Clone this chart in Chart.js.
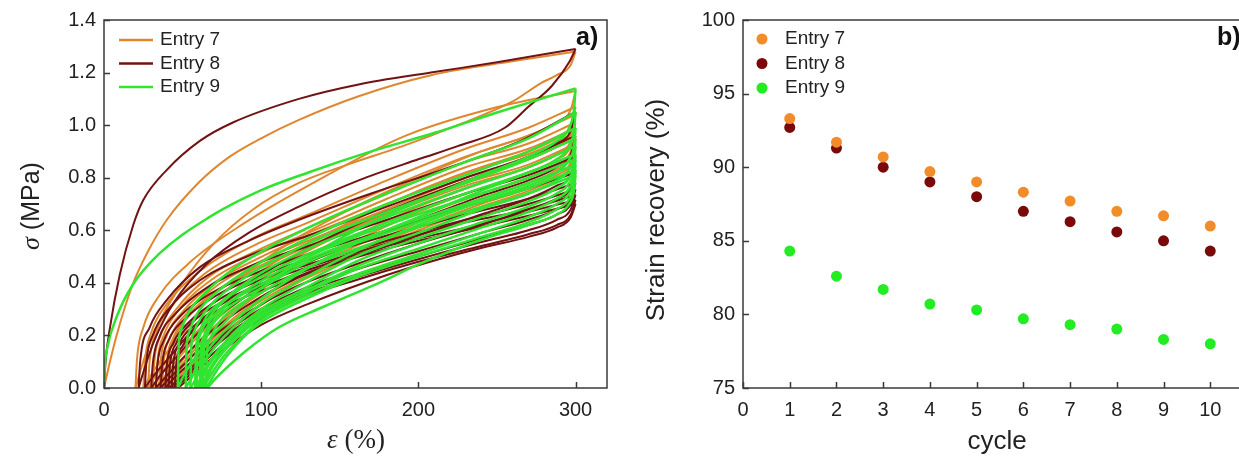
<!DOCTYPE html>
<html>
<head>
<meta charset="utf-8">
<script src="https://cdn.jsdelivr.net/npm/chart.js@4.4.1/dist/chart.umd.min.js"></script>
<style>
  html, body { margin: 0; padding: 0; background: #fff; overflow: hidden; }
  body { width: 1239px; height: 460px; position: relative; }
  .panel { position: absolute; top: 0; height: 460px; }
  #panelA { left: 0; width: 620px; }
  #panelB { left: 620px; width: 660px; }
</style>
</head>
<body>
<div class="panel" id="panelA"><canvas id="chartA"></canvas></div>
<div class="panel" id="panelB"><canvas id="chartB"></canvas></div>
<script>
// 圖例與顏色
const entryLabels = ['Entry 7', 'Entry 8', 'Entry 9'];
const lineColors = ['#DF872F', '#721212', '#30E430'];
const lineWidths = [2, 2, 2.5];
const dotColors = ['#F28C28', '#7A0A0A', '#22EC22'];

// a) 應力-應變循環曲線 [應變 %, 應力 MPa]，每組 10 個循環
const e7Load = [
  [[0,0],[3,0.08],[8,0.2],[18,0.39],[28,0.52],[40,0.64],[60,0.78],[80,0.88],[100,0.95],[124,1.02],[162,1.11],[208,1.19],[251,1.235],[300,1.28]],
  [[20,0],[21,0.11],[25,0.23],[35,0.35],[55,0.48],[90,0.63],[130,0.77],[192,0.96],[251,1.07],[300,1.13]],
  [[25,0],[26,0.10],[30,0.21],[40,0.32],[60,0.44],[95,0.57],[130,0.66],[180,0.79],[230,0.91],[270,0.99],[300,1.07]],
  [[28,0],[29,0.10],[33,0.21],[43,0.31],[63,0.43],[98,0.55],[130,0.63],[180,0.76],[230,0.88],[270,0.96],[300,1.04]],
  [[31,0],[32,0.10],[36,0.20],[46,0.30],[66,0.42],[100,0.53],[130,0.61],[180,0.74],[230,0.86],[270,0.93],[300,1.01]],
  [[33,0],[34,0.10],[38,0.20],[48,0.30],[68,0.41],[102,0.52],[130,0.59],[180,0.72],[230,0.84],[270,0.91],[300,0.99]],
  [[35,0],[36,0.10],[40,0.20],[50,0.29],[70,0.40],[104,0.51],[130,0.58],[180,0.70],[230,0.82],[270,0.89],[300,0.97]],
  [[37,0],[38,0.10],[42,0.19],[52,0.28],[72,0.39],[106,0.50],[130,0.56],[180,0.68],[230,0.80],[270,0.87],[300,0.95]],
  [[39,0],[40,0.10],[44,0.19],[54,0.28],[74,0.38],[108,0.49],[130,0.55],[180,0.67],[230,0.78],[270,0.85],[300,0.93]],
  [[40,0],[41,0.10],[45,0.19],[55,0.28],[75,0.38],[108,0.48],[130,0.54],[180,0.66],[230,0.77],[270,0.84],[300,0.92]]
];
const e7Unload = [
  [[300,1.28],[297,1.23],[288,1.19],[278,1.16],[260,1.09],[225,1.0],[190,0.92],[155,0.85],[124,0.78],[95,0.68],[70,0.55],[50,0.40],[35,0.25],[26,0.12],[20,0]],
  [[300,1.13],[297,1.06],[288,1.01],[270,0.96],[240,0.90],[200,0.80],[160,0.69],[120,0.56],[85,0.41],[55,0.24],[38,0.12],[30,0.05],[25,0]],
  [[300,1.07],[297,1.0],[288,0.95],[270,0.90],[240,0.84],[200,0.75],[160,0.64],[120,0.52],[85,0.38],[58,0.23],[42,0.12],[33,0.05],[28,0]],
  [[300,1.04],[297,0.97],[288,0.92],[270,0.87],[240,0.81],[200,0.72],[160,0.61],[120,0.49],[88,0.36],[60,0.22],[45,0.12],[36,0.05],[31,0]],
  [[300,1.01],[297,0.94],[288,0.89],[270,0.84],[240,0.78],[200,0.69],[160,0.58],[120,0.47],[88,0.34],[62,0.21],[47,0.11],[38,0.04],[33,0]],
  [[300,0.99],[297,0.92],[288,0.87],[270,0.82],[240,0.76],[200,0.67],[160,0.56],[120,0.45],[90,0.33],[64,0.20],[49,0.10],[40,0.04],[35,0]],
  [[300,0.97],[297,0.90],[288,0.85],[270,0.80],[240,0.74],[200,0.65],[160,0.54],[120,0.43],[90,0.32],[66,0.20],[51,0.10],[42,0.04],[37,0]],
  [[300,0.95],[297,0.88],[288,0.83],[270,0.78],[240,0.72],[200,0.63],[160,0.52],[120,0.41],[92,0.31],[68,0.19],[53,0.10],[44,0.04],[39,0]],
  [[300,0.93],[297,0.86],[288,0.81],[270,0.76],[240,0.70],[200,0.61],[160,0.51],[120,0.40],[92,0.30],[68,0.18],[54,0.09],[45,0.04],[40,0]],
  [[300,0.92],[297,0.85],[288,0.80],[270,0.75],[240,0.69],[200,0.60],[160,0.50],[120,0.39],[94,0.29],[70,0.18],[56,0.09],[47,0.04],[42,0]]
];
const e8Load = [
  [[0,0],[1,0.1],[3.8,0.23],[10,0.43],[18.6,0.62],[25,0.715],[40,0.83],[61,0.94],[82,1.01],[124,1.10],[162,1.155],[208,1.20],[251,1.24],[300,1.29]],
  [[22,0],[23,0.10],[29,0.23],[40,0.335],[61,0.46],[92,0.56],[124,0.64],[170,0.74],[220,0.84],[265,0.94],[300,1.05]],
  [[26,0],[27,0.10],[31,0.20],[41,0.30],[61,0.41],[95,0.51],[130,0.58],[180,0.69],[230,0.80],[270,0.88],[300,0.96]],
  [[30,0],[31,0.09],[35,0.19],[45,0.28],[65,0.38],[100,0.48],[130,0.54],[180,0.64],[230,0.74],[270,0.81],[300,0.88]],
  [[33,0],[34,0.09],[38,0.18],[48,0.27],[68,0.36],[102,0.45],[130,0.51],[180,0.60],[230,0.69],[270,0.76],[300,0.82]],
  [[36,0],[37,0.09],[41,0.18],[51,0.26],[71,0.35],[105,0.44],[130,0.49],[180,0.58],[230,0.66],[270,0.72],[300,0.78]],
  [[39,0],[40,0.09],[44,0.17],[54,0.25],[74,0.34],[108,0.43],[130,0.47],[180,0.56],[230,0.64],[270,0.70],[300,0.755]],
  [[41,0],[42,0.09],[46,0.17],[56,0.25],[76,0.33],[110,0.42],[130,0.46],[180,0.55],[230,0.63],[270,0.68],[300,0.735]],
  [[43,0],[44,0.09],[48,0.17],[58,0.24],[78,0.33],[112,0.41],[130,0.45],[180,0.54],[230,0.61],[270,0.67],[300,0.715]],
  [[45,0],[46,0.09],[50,0.16],[60,0.24],[80,0.32],[114,0.40],[130,0.44],[180,0.53],[230,0.60],[270,0.655],[300,0.70]]
];
const e8Unload = [
  [[300,1.29],[296,1.24],[285,1.15],[270,1.07],[255,0.99],[225,0.92],[200,0.87],[162,0.79],[124,0.69],[92,0.59],[65,0.47],[45,0.33],[32,0.18],[25,0.06],[22,0]],
  [[300,1.05],[297,0.98],[288,0.93],[270,0.88],[240,0.81],[200,0.72],[160,0.62],[120,0.50],[85,0.37],[58,0.23],[42,0.12],[32,0.05],[26,0]],
  [[300,0.96],[297,0.89],[288,0.84],[270,0.79],[240,0.73],[200,0.64],[160,0.55],[120,0.45],[88,0.34],[60,0.21],[45,0.11],[36,0.05],[30,0]],
  [[300,0.88],[297,0.81],[288,0.77],[270,0.72],[240,0.66],[200,0.58],[160,0.50],[120,0.41],[90,0.31],[63,0.19],[48,0.10],[39,0.04],[33,0]],
  [[300,0.82],[297,0.76],[288,0.72],[270,0.68],[240,0.62],[200,0.55],[160,0.47],[120,0.38],[92,0.29],[66,0.18],[51,0.09],[42,0.04],[36,0]],
  [[300,0.78],[297,0.72],[288,0.68],[270,0.64],[240,0.59],[200,0.52],[160,0.45],[120,0.36],[94,0.28],[69,0.17],[54,0.09],[45,0.04],[39,0]],
  [[300,0.755],[297,0.70],[288,0.66],[270,0.62],[240,0.57],[200,0.50],[160,0.43],[120,0.35],[95,0.27],[71,0.17],[56,0.08],[47,0.03],[41,0]],
  [[300,0.735],[297,0.68],[288,0.64],[270,0.60],[240,0.555],[200,0.49],[160,0.42],[120,0.34],[97,0.27],[73,0.17],[58,0.08],[49,0.03],[43,0]],
  [[300,0.715],[297,0.66],[288,0.62],[270,0.585],[240,0.54],[200,0.48],[160,0.41],[120,0.33],[99,0.26],[75,0.16],[60,0.08],[51,0.03],[45,0]],
  [[300,0.70],[297,0.65],[288,0.61],[270,0.575],[238,0.53],[213,0.49],[180,0.43],[130,0.32],[100,0.24],[77,0.15],[62,0.08],[53,0.03],[47,0]]
];
const e9Load = [
  [[0,0],[0.5,0.08],[2,0.15],[8,0.27],[18,0.39],[35,0.51],[67,0.65],[99,0.75],[130,0.82],[170,0.90],[210,0.97],[251,1.05],[300,1.14]],
  [[47,0],[47.5,0.16],[49,0.22],[54,0.29],[64,0.36],[84,0.46],[130,0.61],[180,0.74],[230,0.86],[270,0.95],[300,1.05]],
  [[52,0],[52.5,0.15],[54,0.21],[59,0.28],[69,0.35],[89,0.44],[130,0.57],[180,0.70],[230,0.81],[270,0.90],[300,0.99]],
  [[55,0],[55.5,0.15],[57,0.21],[62,0.27],[72,0.34],[92,0.43],[130,0.55],[180,0.67],[230,0.78],[270,0.87],[300,0.95]],
  [[58,0],[58.5,0.14],[60,0.20],[65,0.27],[75,0.33],[95,0.42],[130,0.53],[180,0.65],[230,0.76],[270,0.84],[300,0.92]],
  [[59,0],[59.5,0.14],[61,0.20],[66,0.26],[76,0.33],[96,0.41],[130,0.51],[180,0.63],[230,0.74],[270,0.82],[300,0.89]],
  [[61,0],[61.5,0.14],[63,0.19],[68,0.26],[78,0.32],[98,0.40],[130,0.50],[180,0.62],[230,0.72],[270,0.80],[300,0.87]],
  [[62,0],[62.5,0.14],[64,0.19],[69,0.25],[79,0.32],[99,0.39],[130,0.49],[180,0.60],[230,0.70],[270,0.78],[300,0.85]],
  [[63,0],[63.5,0.13],[65,0.19],[70,0.25],[80,0.31],[100,0.38],[130,0.48],[180,0.59],[230,0.69],[270,0.76],[300,0.83]],
  [[65,0],[65.5,0.13],[67,0.18],[72,0.24],[82,0.30],[102,0.37],[130,0.46],[180,0.57],[230,0.67],[270,0.74],[300,0.81]]
];
const e9Unload = [
  [[300,1.14],[299,1.06],[296,0.99],[288,0.94],[270,0.88],[240,0.81],[200,0.71],[160,0.60],[125,0.48],[100,0.38],[80,0.27],[65,0.17],[55,0.09],[50,0.04],[47,0]],
  [[300,1.05],[299,0.98],[296,0.92],[288,0.87],[270,0.82],[240,0.75],[200,0.65],[160,0.55],[125,0.44],[100,0.34],[82,0.25],[68,0.16],[59,0.08],[55,0.03],[52,0]],
  [[300,0.99],[299,0.92],[296,0.87],[288,0.82],[270,0.77],[240,0.71],[200,0.62],[160,0.52],[125,0.41],[100,0.32],[84,0.24],[70,0.15],[62,0.08],[58,0.03],[55,0]],
  [[300,0.95],[299,0.88],[296,0.83],[288,0.79],[270,0.74],[240,0.68],[200,0.59],[160,0.50],[125,0.39],[100,0.30],[86,0.23],[72,0.14],[64,0.07],[61,0.03],[58,0]],
  [[300,0.92],[299,0.85],[296,0.80],[288,0.76],[270,0.71],[240,0.65],[200,0.57],[160,0.48],[125,0.37],[100,0.29],[86,0.22],[72,0.13],[65,0.07],[62,0.03],[59,0]],
  [[300,0.89],[299,0.83],[296,0.78],[288,0.74],[270,0.69],[240,0.63],[200,0.55],[160,0.46],[125,0.36],[100,0.28],[88,0.22],[74,0.13],[67,0.07],[64,0.03],[61,0]],
  [[300,0.87],[299,0.81],[296,0.76],[288,0.72],[270,0.67],[240,0.61],[200,0.53],[160,0.45],[125,0.35],[100,0.27],[88,0.21],[75,0.13],[68,0.07],[65,0.03],[62,0]],
  [[300,0.85],[299,0.79],[296,0.74],[288,0.70],[270,0.65],[240,0.59],[200,0.51],[160,0.43],[125,0.34],[100,0.26],[89,0.20],[76,0.12],[69,0.06],[66,0.03],[63,0]],
  [[300,0.83],[299,0.77],[296,0.72],[288,0.68],[270,0.63],[240,0.575],[200,0.50],[160,0.42],[125,0.33],[100,0.25],[90,0.20],[78,0.12],[71,0.06],[68,0.03],[65,0]],
  [[300,0.81],[299,0.75],[296,0.70],[288,0.66],[270,0.62],[238,0.56],[200,0.47],[175,0.40],[140,0.31],[111,0.23],[90,0.14],[75,0.06],[70,0.03],[66,0]]
];

// b) 應變回復率
const cycles = [1, 2, 3, 4, 5, 6, 7, 8, 9, 10];
const e7Recovery = [93.3, 91.7, 90.7, 89.7, 89.0, 88.3, 87.7, 87.0, 86.7, 86.0];
const e8Recovery = [92.7, 91.3, 90.0, 89.0, 88.0, 87.0, 86.3, 85.6, 85.0, 84.3];
const e9Recovery = [84.3, 82.6, 81.7, 80.7, 80.3, 79.7, 79.3, 79.0, 78.3, 78.0];

// 刻度
const strainTicks = [0, 100, 200, 300];
const stressTicks = [0, 0.2, 0.4, 0.6, 0.8, 1.0, 1.2, 1.4];
const cycleTicks = [0, 1, 2, 3, 4, 5, 6, 7, 8, 9, 10];
const recoveryTicks = [75, 80, 85, 90, 95, 100];

const SANS = "'Liberation Sans', Arial, sans-serif";
const SERIF = "'Liberation Serif', 'Times New Roman', serif";
const axisColor = '#3a3a3a';
const textColor = '#222';

// 組合 a) 的資料集（綠色畫在最上層）
const datasetsA = [];
[[e7Load, e7Unload], [e8Load, e8Unload], [e9Load, e9Unload]].forEach(([load, unload], i) => {
    load.forEach((curve, c) => {
        [curve, unload[c]].forEach(branch => {
            datasetsA.push({
                label: entryLabels[i],
                data: branch.slice().sort((a, b) => a[0] - b[0]).map(([x, y]) => ({ x, y })),
                showLine: true,
                borderColor: lineColors[i],
                borderWidth: lineWidths[i],
                pointRadius: 0,
                fill: false,
                order: 2 - i,
                cubicInterpolationMode: 'monotone'
            });
        });
    });
});

// 組合 b) 的資料集
const datasetsB = [e7Recovery, e8Recovery, e9Recovery].map((vals, i) => ({
    label: entryLabels[i],
    data: cycles.map((c, k) => ({ x: c, y: vals[k] })),
    backgroundColor: dotColors[i],
    borderWidth: 0,
    pointRadius: 5.5,
    pointHoverRadius: 5.5
}));

function fixedTicks(list) {
    return scale => { scale.ticks = list.map(v => ({ value: v })); };
}

function axisOpts(min, max, list, fmt, fitSize, pad) {
    return {
        type: 'linear',
        min, max,
        afterBuildTicks: fixedTicks(list),
        afterFit: s => { if (s.isHorizontal()) s.height = fitSize; else s.width = fitSize; },
        grid: { display: false, drawTicks: false },
        border: { display: false },
        ticks: {
            padding: pad,
            color: textColor,
            font: { family: SANS, size: 20 },
            maxRotation: 0,
            autoSkip: false,
            callback: fmt
        }
    };
}

// 外框與向內刻度
function drawFrame(chart) {
    const { ctx, chartArea: a, scales: { x, y } } = chart;
    ctx.save();
    ctx.strokeStyle = axisColor;
    ctx.lineWidth = 1.5;
    ctx.strokeRect(a.left, a.top, a.right - a.left, a.bottom - a.top);
    ctx.beginPath();
    x.ticks.forEach(t => {
        const px = Math.round(x.getPixelForValue(t.value)) + 0.5;
        ctx.moveTo(px, a.bottom);
        ctx.lineTo(px, a.bottom - 6);
    });
    y.ticks.forEach(t => {
        const py = Math.round(y.getPixelForValue(t.value)) + 0.5;
        ctx.moveTo(a.left, py);
        ctx.lineTo(a.left + 6, py);
    });
    ctx.stroke();
    ctx.restore();
}

function drawMixed(ctx, parts, cx, cy, rotate) {
    ctx.save();
    ctx.translate(cx, cy);
    if (rotate) ctx.rotate(-Math.PI / 2);
    let total = 0;
    parts.forEach(p => { ctx.font = p.font; total += ctx.measureText(p.text).width; });
    let xPos = -total / 2;
    ctx.fillStyle = textColor;
    ctx.textBaseline = 'middle';
    ctx.textAlign = 'left';
    parts.forEach(p => {
        ctx.font = p.font;
        ctx.fillText(p.text, xPos, 0);
        xPos += ctx.measureText(p.text).width;
    });
    ctx.restore();
}

const decorA = {
    id: 'decorA',
    afterDraw(chart) {
        const ctx = chart.ctx;
        drawFrame(chart);
        drawMixed(ctx, [
            { text: 'σ', font: `italic 26px ${SERIF}` },
            { text: ' (MPa)', font: `25px ${SANS}` }
        ], 32, 206, true);
        drawMixed(ctx, [
            { text: 'ε', font: `italic 27px ${SERIF}` },
            { text: ' (%)', font: `27px ${SERIF}` }
        ], 356, 441, false);
        // 圖例
        ctx.save();
        entryLabels.forEach((lab, i) => {
            const yy = 40 + i * 23.5;
            ctx.strokeStyle = lineColors[i];
            ctx.lineWidth = 2.4;
            ctx.beginPath();
            ctx.moveTo(119, yy);
            ctx.lineTo(153, yy);
            ctx.stroke();
            ctx.fillStyle = textColor;
            ctx.font = `19px ${SANS}`;
            ctx.textBaseline = 'middle';
            ctx.fillText(lab, 160, yy);
        });
        ctx.font = `bold 25px ${SANS}`;
        ctx.fillStyle = '#111';
        ctx.fillText('a)', 576, 38);
        ctx.restore();
    }
};

const decorB = {
    id: 'decorB',
    afterDraw(chart) {
        const ctx = chart.ctx;
        drawFrame(chart);
        drawMixed(ctx, [{ text: 'Strain recovery (%)', font: `26px ${SANS}` }], 37, 210, true);
        drawMixed(ctx, [{ text: 'cycle', font: `26px ${SANS}` }], 377, 442, false);
        ctx.save();
        entryLabels.forEach((lab, i) => {
            const yy = 39 + i * 24.5;
            ctx.fillStyle = dotColors[i];
            ctx.beginPath();
            ctx.arc(142, yy, 5.5, 0, Math.PI * 2);
            ctx.fill();
            ctx.fillStyle = textColor;
            ctx.font = `19px ${SANS}`;
            ctx.textBaseline = 'middle';
            ctx.fillText(lab, 165, yy);
        });
        ctx.font = `bold 25px ${SANS}`;
        ctx.fillStyle = '#111';
        ctx.fillText('b)', 597, 38);
        ctx.restore();
    }
};

new Chart(document.getElementById('chartA'), {
    type: 'scatter',
    data: { datasets: datasetsA },
    options: {
        responsive: true,
        maintainAspectRatio: false,
        animation: false,
        events: [],
        layout: { padding: { left: 0, right: 13, top: 20, bottom: 0 } },
        scales: {
            x: axisOpts(0, 320, strainTicks, v => String(v), 72, 10),
            y: axisOpts(0, 1.4, stressTicks, v => v.toFixed(1), 104, 8)
        },
        plugins: { legend: { display: false }, tooltip: { enabled: false } }
    },
    plugins: [decorA]
});

new Chart(document.getElementById('chartB'), {
    type: 'scatter',
    data: { datasets: datasetsB },
    options: {
        responsive: true,
        maintainAspectRatio: false,
        animation: false,
        events: [],
        layout: { padding: { left: 0, right: 23, top: 20, bottom: 0 } },
        scales: {
            x: axisOpts(0, 11, cycleTicks, v => String(v), 72, 10),
            y: axisOpts(75, 100, recoveryTicks, v => String(v), 123, 8)
        },
        plugins: { legend: { display: false }, tooltip: { enabled: false } }
    },
    plugins: [decorB]
});
</script>
</body>
</html>
